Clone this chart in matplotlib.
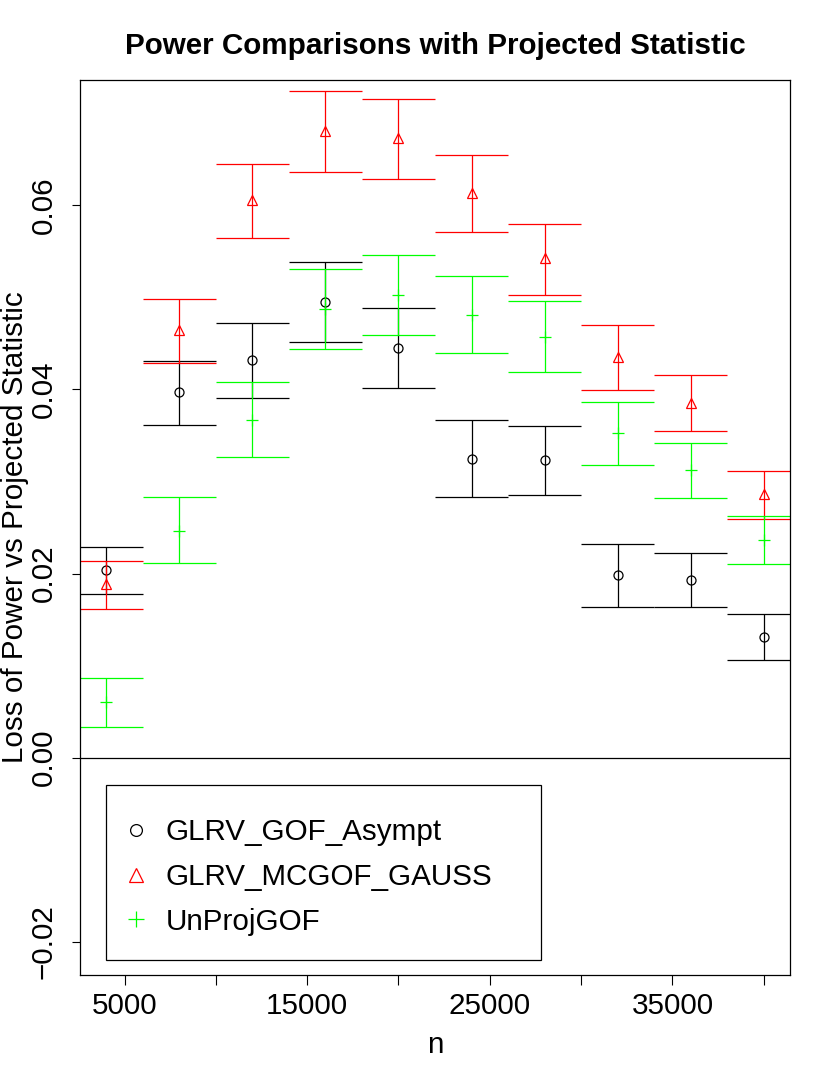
import matplotlib
matplotlib.use("Agg")
import matplotlib.pyplot as plt
from matplotlib.patches import Rectangle
from matplotlib.lines import Line2D

plt.rcParams['font.family'] = ['Liberation Sans', 'DejaVu Sans']

n = [4000, 8000, 12000, 16000, 20000, 24000, 28000, 32000, 36000, 40000]

asympt = [0.02036, 0.03967, 0.04315, 0.04953, 0.04449, 0.03247, 0.03230, 0.01983, 0.01928, 0.01313]
asympt_hi = [0.02293, 0.04308, 0.04725, 0.05388, 0.04880, 0.03663, 0.03605, 0.02320, 0.02224, 0.01566]
asympt_lo = [0.01775, 0.03616, 0.03906, 0.04514, 0.04011, 0.02836, 0.02848, 0.01641, 0.01634, 0.01059]

gauss = [0.01884, 0.04645, 0.06058, 0.06804, 0.06732, 0.06138, 0.05423, 0.04353, 0.03854, 0.02864]
gauss_hi = [0.02134, 0.04978, 0.06453, 0.07236, 0.07156, 0.06546, 0.05797, 0.04696, 0.04154, 0.03118]
gauss_lo = [0.01612, 0.04286, 0.05645, 0.06366, 0.06290, 0.05714, 0.05027, 0.03996, 0.03547, 0.02590]

unproj = [0.00605, 0.02467, 0.03670, 0.04870, 0.05022, 0.04811, 0.04574, 0.03522, 0.03123, 0.02365]
unproj_hi = [0.00870, 0.02826, 0.04080, 0.05304, 0.05464, 0.05227, 0.04957, 0.03867, 0.03422, 0.02627]
unproj_lo = [0.00337, 0.02112, 0.03261, 0.04438, 0.04591, 0.04400, 0.04191, 0.03180, 0.02818, 0.02103]

labels = ['GLRV_GOF_Asympt', 'GLRV_MCGOF_GAUSS', 'UnProjGOF']
cap_half = 2000

W, H = 830, 1075
fig = plt.figure(figsize=(W / 100, H / 100), dpi=100)
ax = fig.add_axes([80 / W, (H - 975) / H, 710 / W, 895 / H])

fs = 21.3
series = [
    (asympt, asympt_lo, asympt_hi, 'black', 'o', 6.5),
    (gauss, gauss_lo, gauss_hi, '#FF0000', '^', 7.5),
    (unproj, unproj_lo, unproj_hi, '#00FF00', '+', 8.5),
]

for y, lo, hi, col, mk, ms in series:
    ax.plot(n, y, linestyle='none', marker=mk, markersize=ms, markerfacecolor='none',
            markeredgecolor=col, markeredgewidth=0.9)
    ax.vlines(n, lo, hi, color=col, lw=0.9)
    xs_l = [v - cap_half for v in n]
    xs_r = [v + cap_half for v in n]
    ax.hlines(hi, xs_l, xs_r, color=col, lw=0.9)
    ax.hlines(lo, xs_l, xs_r, color=col, lw=0.9)

ax.axhline(0, color='black', lw=0.9)

ax.set_xlim(2560, 41440)
ax.set_ylim(-0.0236, 0.0736)

xt = [5000, 10000, 15000, 20000, 25000, 30000, 35000, 40000]
ax.set_xticks(xt)
ax.set_xticklabels([str(v) if v in (5000, 15000, 25000, 35000) else '' for v in xt], fontsize=fs)
ax.set_yticks([-0.02, 0.0, 0.02, 0.04, 0.06])
ax.set_yticklabels(['\u22120.02', '0.00', '0.02', '0.04', '0.06'], fontsize=fs,
                   rotation=90, va='center')
ax.tick_params(axis='x', length=7, width=0.8, pad=5)
ax.tick_params(axis='y', length=6, width=0.8, pad=10)
for s in ax.spines.values():
    s.set_linewidth(0.9)

ax.set_xlabel('n', fontsize=fs, labelpad=8)
fig.text(1 / W, 1 - 527 / H, 'Loss of Power vs Projected Statistic', rotation=90,
         ha='left', va='center', fontsize=fs)
ax.set_title('Power Comparisons with Projected Statistic', fontsize=fs, fontweight='bold', pad=19)

# legend box
ax.add_patch(Rectangle(((106 - 80) / 710, (975 - 960) / 895), (541 - 106) / 710, (960 - 785) / 895,
                       transform=ax.transAxes, fill=True, facecolor='white', edgecolor='black',
                       lw=0.9, zorder=5))
leg_sizes = [8.5, 10.0, 11.0]
handles = [Line2D([], [], linestyle='none', marker=mk, markersize=lms, markerfacecolor='none',
                  markeredgecolor=col, markeredgewidth=0.9)
           for (_, _, _, col, mk, _), lms in zip(series, leg_sizes)]
leg = ax.legend(handles, labels, loc='upper left', bbox_to_anchor=((121 - 80) / 710, (975 - 818) / 895),
                frameon=False, fontsize=fs, borderpad=0, borderaxespad=0, handlelength=1.0,
                handletextpad=0.5, labelspacing=0.57)
leg.set_zorder(6)

fig.savefig('out.png', dpi=100)
